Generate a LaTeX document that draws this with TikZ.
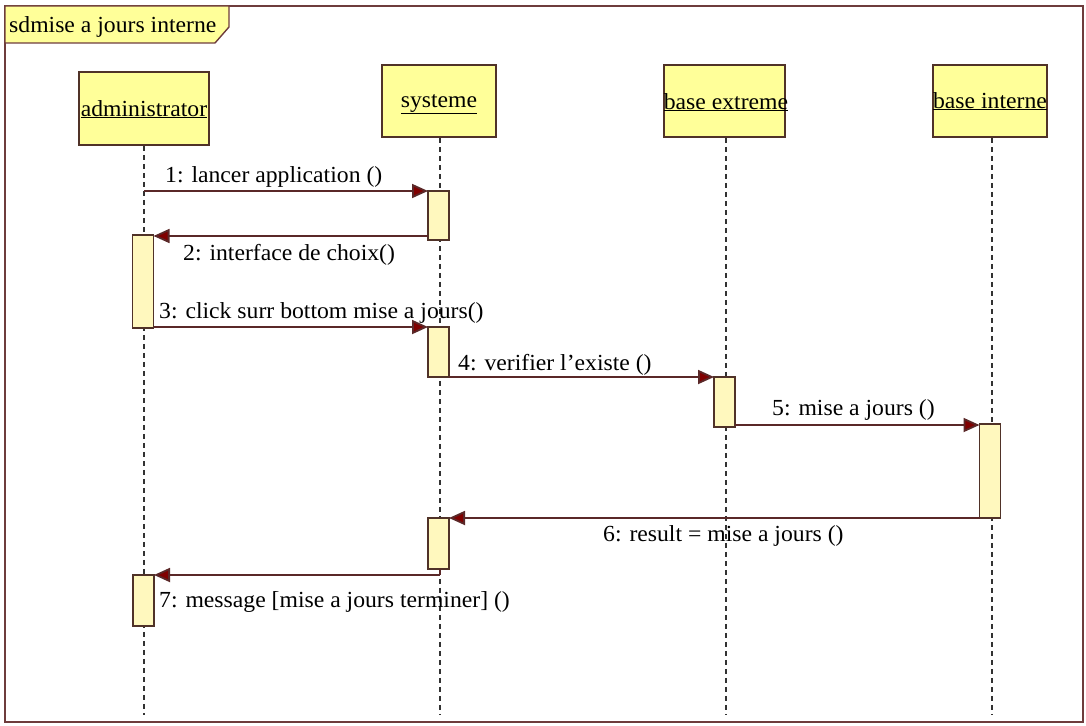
\documentclass[tikz,border=0pt]{standalone}
\usepackage{fontspec}
\setmainfont{Liberation Serif}[FakeStretch=1.03]
\usetikzlibrary{arrows.meta}
\definecolor{headfill}{RGB}{255,255,153}
\definecolor{actfill}{RGB}{255,248,190}
\definecolor{boxline}{RGB}{80,50,40}
\definecolor{msgline}{RGB}{90,40,40}
\definecolor{tipred}{RGB}{128,0,0}
\definecolor{frameline}{RGB}{110,60,60}
\definecolor{lifeline}{RGB}{50,50,50}
\tikzset{
  head/.style={draw=boxline, line width=1.6pt, fill=headfill, inner sep=0pt},
  htext/.style={inner sep=0pt, font=\fontsize{23}{25}\selectfont},
  act/.style={draw=boxline, line width=1.2pt, fill=actfill, inner sep=0pt, outer sep=0pt, minimum width=21pt, anchor=north},
  life/.style={draw=lifeline, line width=1.5pt, dash pattern=on 5pt off 4pt},
  msg/.style={draw=msgline, line width=1.8pt, -{Triangle[length=16pt,width=14pt,fill=tipred]}},
  mlabel/.style={inner sep=0pt, anchor=base west, font=\fontsize{23}{25}\selectfont},
}
\begin{document}
\begin{tikzpicture}[x=1pt,y=-1pt]
\useasboundingbox (0,0) rectangle (1086,725);
% frame
\draw[frameline, line width=1.6pt] (5,6) rectangle (1083,722);
\draw[frameline, line width=1.4pt, fill=headfill] (5,6) -- (229,6) -- (229,27) -- (215,43) -- (5,43) -- cycle;
\node[htext, anchor=base west] (title) at (9,33) {sdmise a jours interne};
% heads
\node[head, minimum width=130pt, minimum height=73pt] (h1) at (144,108.5) {};
\node[head, minimum width=114pt, minimum height=72pt] (h2) at (439,101) {};
\node[head, minimum width=121pt, minimum height=72pt] (h3) at (724.5,101) {};
\node[head, minimum width=114pt, minimum height=72pt] (h4) at (990,101) {};
\node[htext, anchor=base] (t1) at (144,116) {\underline{administrator}};
\node[htext, anchor=base] (t2) at (439,107) {\underline{systeme}};
\node[htext, anchor=base] (t3) at (726,109) {\underline{base extreme}};
\node[htext, anchor=base] (t4) at (990,108) {\underline{base interne}};
% lifelines
\coordinate (e1) at (144,715);
\coordinate (e2) at (440,715);
\coordinate (e3) at (726,715);
\coordinate (e4) at (992,715);
\draw[life] (h1.south -| e1) -- (e1);
\draw[life] (h2.south -| e2) -- (e2);
\draw[life] (h3.south -| e3) -- (e3);
\draw[life] (h4.south -| e4) -- (e4);
% activations
\node[act, minimum height=49pt] (s1) at (438.5,191) {};
\node[act, minimum height=93pt] (a1) at (143,235) {};
\node[act, minimum height=50pt] (s2) at (438.5,327) {};
\node[act, minimum height=50pt] (x1) at (724.5,377) {};
\node[act, minimum height=94pt] (i1) at (990,424) {};
\node[act, minimum height=51pt] (s3) at (438.5,518) {};
\node[act, minimum height=51pt] (a2) at (143.5,575) {};
% messages
\coordinate (m1s) at (144,191);
\draw[msg] (m1s) -- (s1.west |- m1s);
\node[mlabel] (l1) at (165,182) {1: lancer application ()};
\draw[msg] (s1.west |- 0,236) -- (a1.east |- 0,236);
\node[mlabel] (l2) at (183,260) {2: interface de choix()};
\draw[msg] (a1.east |- 0,327) -- (s2.west |- 0,327);
\node[mlabel] (l3) at (159,318) {3: click surr bottom mise a jours()};
\draw[msg] (s2.east |- 0,377) -- (x1.west |- 0,377);
\node[mlabel] (l4) at (458,370) {4: verifier l’existe ()};
\draw[msg] (x1.east |- 0,425) -- (i1.west |- 0,425);
\node[mlabel] (l5) at (772,415) {5: mise a jours ()};
\draw[msg] (i1.west |- 0,518) -- (s3.east |- 0,518);
\node[mlabel] (l6) at (603,541) {6: result = mise a jours ()};
\coordinate (m7s) at (440,575);
\draw[msgline, line width=1.4pt] (s3.south -| m7s) -- (m7s);
\draw[msg] (m7s) -- (a2.east |- m7s);
\node[mlabel] (l7) at (159,607) {7: message [mise a jours terminer] ()};
\end{tikzpicture}
\end{document}
